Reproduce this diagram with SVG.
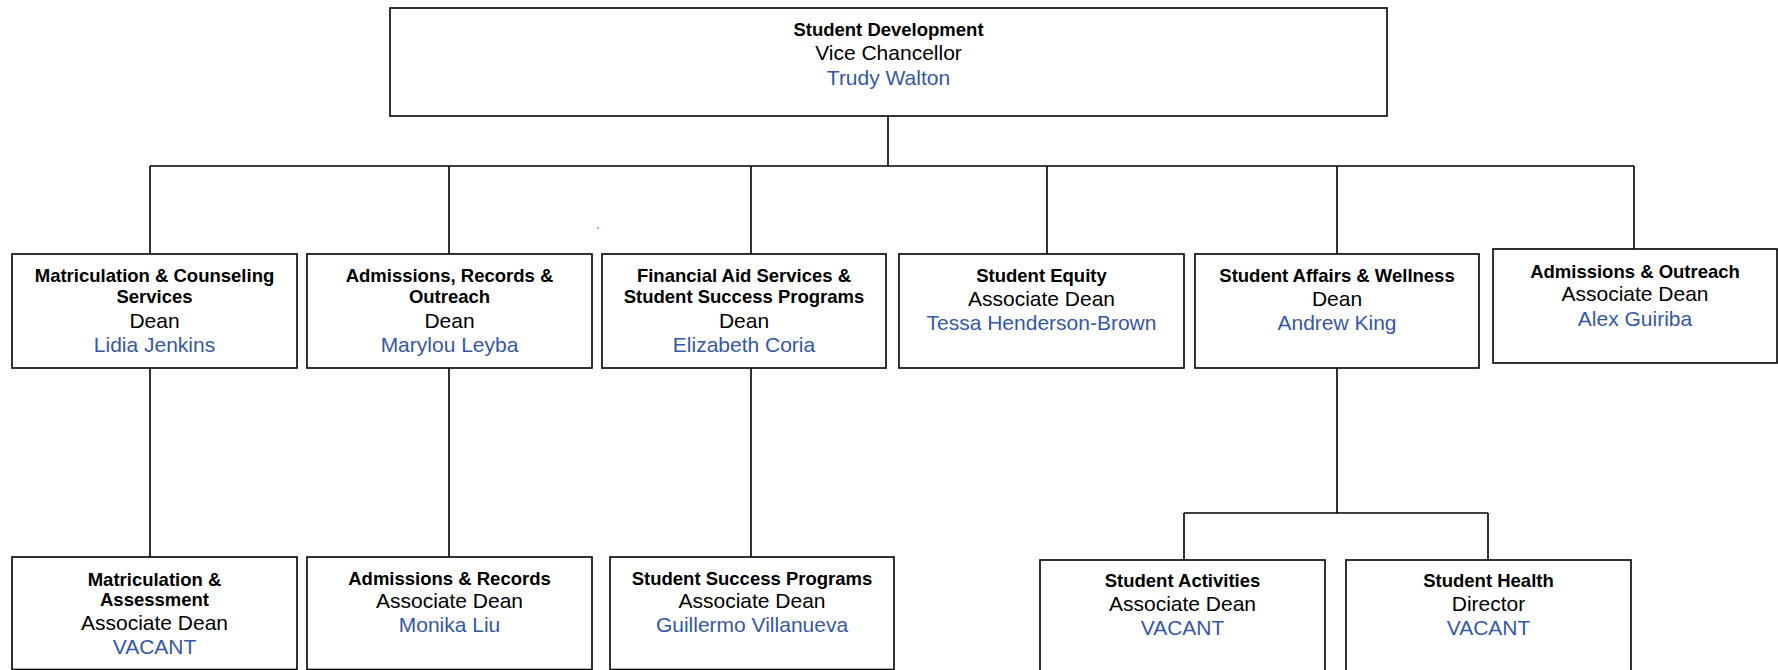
<svg xmlns="http://www.w3.org/2000/svg" width="1778" height="670" viewBox="0 0 1778 670">
<style>
.box{fill:#ffffff;stroke:#000000;stroke-width:1.6}
.con{fill:none;stroke:#000000;stroke-width:1.6}
text{font-family:"Liberation Sans",Arial,sans-serif;text-anchor:middle}
.b{font-weight:bold;font-size:18.5px;fill:#000000}
.r{font-size:21px;fill:#000000}
.n{font-size:21px;fill:#3558A5}
</style>
<rect width="1778" height="670" fill="#ffffff"/>
<g id="connectors">
<path class="con" d="M888 116V166M150 166H1634M150 166V254M449 166V254M751 166V254M1047 166V254M1337 166V254M1634 166V249"/>
<path class="con" d="M150 368V557M449 368V557M751 368V557M1337 368V513M1184 513H1488M1184 513V560M1488 513V560"/>
</g>
<g id="vc">
<rect class="box" x="390" y="8" width="997" height="108"/>
<text class="b" x="888.5" y="35.7">Student Development</text>
<text class="r" x="888.5" y="60">Vice Chancellor</text>
<text class="n" x="888.5" y="84.5">Trudy Walton</text>
</g>
<g id="mcs">
<rect class="box" x="12" y="254" width="285" height="114"/>
<text class="b" x="154.5" y="282">Matriculation &amp; Counseling</text>
<text class="b" x="154.5" y="303">Services</text>
<text class="r" x="154.5" y="328">Dean</text>
<text class="n" x="154.5" y="352">Lidia Jenkins</text>
</g>
<g id="aro">
<rect class="box" x="307" y="254" width="285" height="114"/>
<text class="b" x="449.5" y="282">Admissions, Records &amp;</text>
<text class="b" x="449.5" y="303">Outreach</text>
<text class="r" x="449.5" y="328">Dean</text>
<text class="n" x="449.5" y="352">Marylou Leyba</text>
</g>
<g id="fas">
<rect class="box" x="602" y="254" width="284" height="114"/>
<text class="b" x="744" y="282">Financial Aid Services &amp;</text>
<text class="b" x="744" y="303">Student Success Programs</text>
<text class="r" x="744" y="328">Dean</text>
<text class="n" x="744" y="352">Elizabeth Coria</text>
</g>
<g id="se">
<rect class="box" x="899" y="254" width="285" height="114"/>
<text class="b" x="1041.5" y="282">Student Equity</text>
<text class="r" x="1041.5" y="306">Associate Dean</text>
<text class="n" x="1041.5" y="330">Tessa Henderson-Brown</text>
</g>
<g id="saw">
<rect class="box" x="1195" y="254" width="284" height="114"/>
<text class="b" x="1337" y="282">Student Affairs &amp; Wellness</text>
<text class="r" x="1337" y="306">Dean</text>
<text class="n" x="1337" y="330">Andrew King</text>
</g>
<g id="ao">
<rect class="box" x="1493" y="249" width="284" height="114"/>
<text class="b" x="1635" y="277.7">Admissions &amp; Outreach</text>
<text class="r" x="1635" y="301">Associate Dean</text>
<text class="n" x="1635" y="325.7">Alex Guiriba</text>
</g>
<g id="ma">
<rect class="box" x="12" y="557" width="285" height="112.5"/>
<text class="b" x="154.5" y="585.7">Matriculation &amp;</text>
<text class="b" x="154.5" y="605.7">Assessment</text>
<text class="r" x="154.5" y="630">Associate Dean</text>
<text class="n" x="154.5" y="654.3">VACANT</text>
</g>
<g id="ar">
<rect class="box" x="307" y="557" width="285" height="112.5"/>
<text class="b" x="449.5" y="584.5">Admissions &amp; Records</text>
<text class="r" x="449.5" y="608.3">Associate Dean</text>
<text class="n" x="449.5" y="631.7">Monika Liu</text>
</g>
<g id="ssp">
<rect class="box" x="610" y="557" width="284" height="112.5"/>
<text class="b" x="752" y="584.5">Student Success Programs</text>
<text class="r" x="752" y="608.3">Associate Dean</text>
<text class="n" x="752" y="631.7">Guillermo Villanueva</text>
</g>
<g id="sa">
<rect class="box" x="1040" y="560" width="285" height="120"/>
<text class="b" x="1182.5" y="587">Student Activities</text>
<text class="r" x="1182.5" y="611">Associate Dean</text>
<text class="n" x="1182.5" y="635">VACANT</text>
</g>
<g id="sh">
<rect class="box" x="1346" y="560" width="285" height="120"/>
<text class="b" x="1488.5" y="587">Student Health</text>
<text class="r" x="1488.5" y="611">Director</text>
<text class="n" x="1488.5" y="635">VACANT</text>
</g>
<rect x="597" y="227" width="2" height="2" fill="#8FA8D8"/>
</svg>
